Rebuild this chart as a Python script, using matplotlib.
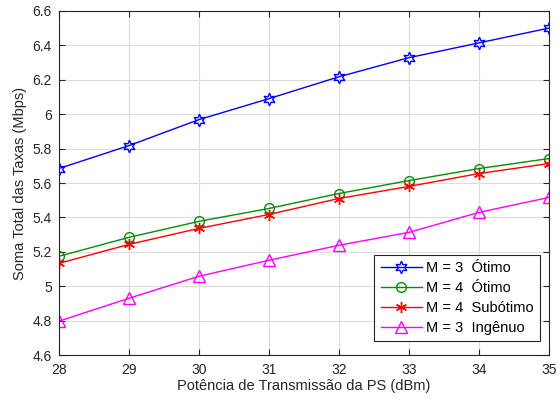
import matplotlib
matplotlib.use("Agg")
import matplotlib.pyplot as plt

plt.rcParams['font.family'] = ['Liberation Sans', 'DejaVu Sans']

# data
potencia = [28, 29, 30, 31, 32, 33, 34, 35]
m3_otimo = [5.684, 5.817, 5.968, 6.090, 6.217, 6.328, 6.414, 6.500]
m4_otimo = [5.174, 5.284, 5.377, 5.452, 5.539, 5.614, 5.684, 5.742]
m4_subotimo = [5.133, 5.243, 5.336, 5.417, 5.510, 5.580, 5.655, 5.713]
m3_ingenuo = [4.797, 4.930, 5.058, 5.151, 5.238, 5.313, 5.429, 5.516]

fig = plt.figure(figsize=(5.6, 4.04), dpi=100)
ax = fig.add_axes([0.105, 0.121, 0.875, 0.852])

ax.plot(potencia, m3_otimo, color='#0000ff', lw=1, marker=(6, 1, 0), ms=9, mfc='none', mew=1, label='M = 3  Ótimo')
ax.plot(potencia, m4_otimo, color='#0a8a0a', lw=1, marker='o', ms=7, mfc='none', mew=1, label='M = 4  Ótimo')
ax.plot(potencia, m4_subotimo, color='#ff0000', lw=1, marker=(6, 2, 0), ms=8, mew=1, label='M = 4  Subótimo')
ax.plot(potencia, m3_ingenuo, color='#ff00ff', lw=1, marker='^', ms=8, mfc='none', mew=1, label='M = 3  Ingênuo')

ax.set_xlim(28, 35)
ax.set_ylim(4.6, 6.6)
ax.set_xticks(potencia)
ax.set_yticks([4.6, 4.8, 5, 5.2, 5.4, 5.6, 5.8, 6, 6.2, 6.4, 6.6])
ax.set_yticklabels(['4.6', '4.8', '5', '5.2', '5.4', '5.6', '5.8', '6', '6.2', '6.4', '6.6'])
ax.grid(True, color='#dcdcdc', lw=0.8)
ax.set_axisbelow(True)
ax.tick_params(direction='in', top=True, right=True, labelsize=10, colors='#262626', length=4)
ax.tick_params(axis='x', pad=6)
ax.tick_params(axis='y', pad=5)
for s in ax.spines.values():
    s.set_color('#262626')
    s.set_linewidth(0.8)

ax.set_xlabel('Potência de Transmissão da PS (dBm)', fontsize=10.5, color='#262626', labelpad=1)
ax.set_ylabel('Soma Total das Taxas (Mbps)', fontsize=10.5, color='#262626')

leg = ax.legend(loc='lower right', bbox_to_anchor=(0.9825, 0.04), fontsize=10.5,
                fancybox=False, framealpha=1, edgecolor='#262626', borderaxespad=0,
                handlelength=2.8, handletextpad=0.3, labelspacing=0.4,
                borderpad=0.45)
leg.get_frame().set_linewidth(0.8)

fig.savefig('out.png', dpi=100)
